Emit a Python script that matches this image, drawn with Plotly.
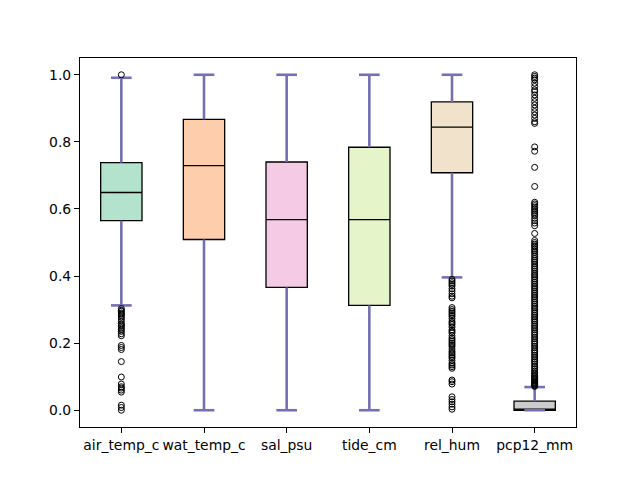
import plotly.graph_objects as go

categories = ["air_temp_c", "wat_temp_c", "sal_psu", "tide_cm", "rel_hum", "pcp12_mm"]
q1 = [0.565, 0.509, 0.366, 0.3125, 0.708, 0.0]
median = [0.649, 0.729, 0.568, 0.568, 0.844, 0.0]
q3 = [0.738, 0.867, 0.740, 0.784, 0.919, 0.027]
whisker_low = [0.3125, 0.0, 0.0, 0.0, 0.396, 0.0]
whisker_high = [0.991, 1.0, 1.0, 1.0, 1.0, 0.069]
box_colors = ["#b3e2cd", "#fdcdac", "#f4cae4", "#e6f5c9", "#f1e2cc", "#cccccc"]
whisker_color = "#7570b3"

outliers_air_temp = [1.0, 0.303, 0.298, 0.295, 0.29, 0.287, 0.283, 0.278, 0.272, 0.265, 0.258,
                     0.254, 0.25, 0.245, 0.24, 0.235, 0.228, 0.222, 0.193, 0.187, 0.181, 0.145,
                     0.099, 0.078, 0.07, 0.066, 0.06, 0.054, 0.015, 0.008, 0.0]
outliers_wat_temp = []
outliers_sal = []
outliers_tide = []
outliers_rel_hum = [0.39, 0.385, 0.38, 0.375, 0.37, 0.362, 0.355, 0.347, 0.34, 0.335, 0.306, 0.3,
                    0.295, 0.29, 0.285, 0.28, 0.273, 0.265, 0.26, 0.255, 0.248, 0.24, 0.235, 0.23,
                    0.222, 0.215, 0.21, 0.205, 0.2, 0.195, 0.19, 0.182, 0.175, 0.17, 0.165, 0.16,
                    0.155, 0.148, 0.14, 0.135, 0.13, 0.125, 0.09, 0.085, 0.078, 0.04, 0.032,
                    0.025, 0.018, 0.01, 0.003]
outliers_pcp12 = [1.0, 0.995, 0.99, 0.985, 0.975, 0.965, 0.955, 0.95, 0.94, 0.93, 0.92, 0.91, 0.9,
                  0.89, 0.88, 0.87, 0.86, 0.855, 0.785, 0.772, 0.724, 0.667,
                  0.62, 0.615, 0.61, 0.605, 0.6, 0.595, 0.59, 0.585, 0.58, 0.572, 0.565, 0.558,
                  0.55, 0.527,
                  0.506, 0.5, 0.495, 0.49, 0.486, 0.48, 0.475, 0.47, 0.464, 0.458, 0.452, 0.447,
                  0.442, 0.436, 0.43, 0.425, 0.42, 0.414, 0.408, 0.403, 0.398, 0.392, 0.387,
                  0.381, 0.376, 0.37, 0.365, 0.36, 0.354, 0.349, 0.343, 0.338, 0.332, 0.327,
                  0.321, 0.316, 0.31, 0.305, 0.3, 0.294, 0.289, 0.283, 0.278, 0.272, 0.267,
                  0.262, 0.256, 0.251, 0.245, 0.24, 0.234, 0.229, 0.224, 0.218, 0.213, 0.207,
                  0.202, 0.197, 0.191, 0.186, 0.18, 0.175, 0.17, 0.164, 0.159, 0.153, 0.148,
                  0.143, 0.138, 0.132, 0.127, 0.122, 0.117, 0.112, 0.108, 0.104, 0.1, 0.097,
                  0.094, 0.091, 0.088, 0.085, 0.083, 0.081, 0.079, 0.077, 0.075, 0.073, 0.071]
outliers = [outliers_air_temp, outliers_wat_temp, outliers_sal, outliers_tide,
            outliers_rel_hum, outliers_pcp12]

positions = list(range(1, len(categories) + 1))
BOX_W = 0.5
CAP_HALF = 0.125

fig = go.Figure()

for i, pos in enumerate(positions):
    fig.add_trace(go.Box(
        x=[pos], q1=[q1[i]], median=[median[i]], q3=[q3[i]],
        lowerfence=[q1[i]], upperfence=[q3[i]],
        width=BOX_W, whiskerwidth=0,
        fillcolor=box_colors[i], line=dict(color="black", width=1.3),
        boxpoints=False, showlegend=False, hoverinfo="skip",
    ))

# whiskers and caps
for i, pos in enumerate(positions):
    xs = [pos, pos, None, pos, pos, None,
          pos - CAP_HALF, pos + CAP_HALF, None, pos - CAP_HALF, pos + CAP_HALF]
    ys = [q1[i], whisker_low[i], None, q3[i], whisker_high[i], None,
          whisker_low[i], whisker_low[i], None, whisker_high[i], whisker_high[i]]
    fig.add_trace(go.Scatter(x=xs, y=ys, mode="lines",
                             line=dict(color=whisker_color, width=2.6),
                             showlegend=False, hoverinfo="skip"))

# outliers
for i, pos in enumerate(positions):
    if outliers[i]:
        fig.add_trace(go.Scatter(
            x=[pos] * len(outliers[i]), y=outliers[i], mode="markers",
            marker=dict(symbol="circle-open", size=6, color="black", line=dict(width=1)),
            showlegend=False, hoverinfo="skip"))

axis_common = dict(showline=True, linecolor="black", linewidth=1.1, mirror=True,
                   ticks="outside", ticklen=5, tickwidth=1.1, tickcolor="black",
                   showgrid=False, zeroline=False,
                   tickfont=dict(family="DejaVu Sans", size=13.9, color="black"))

# the page body adds an 8px offset, so the figure is 8px smaller and margins shifted
fig.update_layout(
    width=632, height=472,
    margin=dict(l=72, r=64, t=49.6, b=52.8),
    paper_bgcolor="white", plot_bgcolor="white",
    boxmode="overlay",
    xaxis=dict(range=[0.5, 6.5], tickmode="array", tickvals=positions, ticktext=categories,
               **axis_common),
    yaxis=dict(range=[-0.05, 1.05], tickmode="array", tickvals=[0.0, 0.2, 0.4, 0.6, 0.8, 1.0],
               tickformat=".1f", **axis_common),
)

fig.write_html("out.html")
